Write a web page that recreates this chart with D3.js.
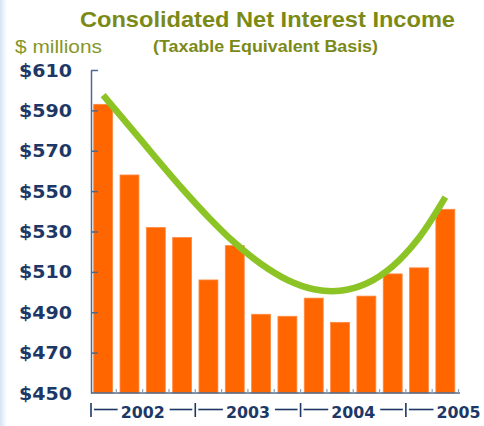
<!DOCTYPE html>
<html>
<head>
<meta charset="utf-8">
<script src="https://cdn.jsdelivr.net/npm/d3@7"></script>
<style>
  html, body { margin: 0; padding: 0; background: #ffffff; }
  svg { display: block; }
</style>
</head>
<body>
<svg id="chart" width="484" height="426"></svg>
<script>
// Quarterly net interest income, $ millions (2002 Q1 .. 2005 Q2)
const quarters = ["2002Q1","2002Q2","2002Q3","2002Q4",
                  "2003Q1","2003Q2","2003Q3","2003Q4",
                  "2004Q1","2004Q2","2004Q3","2004Q4",
                  "2005Q1","2005Q2"];
const income = [593, 558, 532, 527, 506, 523, 489, 488, 497, 485, 498, 509, 512, 541];
// Smoothed trend drawn over the bars, one point per quarter
const trend = [597.6, 582.1, 566.5, 551.3, 537.1, 524.4, 513.9, 506.0, 501.4, 500.6, 504.2, 512.8, 526.9, 547.0];
// Year groups along the category axis
const years = ["2002", "2003", "2004", "2005"];
const yearStart = ["2002Q1", "2003Q1", "2004Q1", "2005Q1"];
// Value axis ticks
const yTicks = [450, 470, 490, 510, 530, 550, 570, 590, 610];

const svg = d3.select("#chart");
const navy = "#1d3866";
const olive = "#7b8a17";
const axisCol = "#4d6a8e";

// faint blue edge on the left side of the slide
const defs = svg.append("defs");
const g = defs.append("linearGradient").attr("id", "edge").attr("x1", 0).attr("x2", 1);
g.append("stop").attr("offset", 0).attr("stop-color", "#d4e3f3");
g.append("stop").attr("offset", 1).attr("stop-color", "#ffffff");
svg.append("rect").attr("x", 0).attr("y", 0).attr("width", 7).attr("height", 426).attr("fill", "url(#edge)");

const x = d3.scaleBand().domain(quarters).range([90, 458.5]).paddingInner(0.28).paddingOuter(0.14);
const y = d3.scaleLinear().domain([450, 610]).range([393, 70]);
const step = x.step();
const boundary = q => x(q) - step * x.paddingInner() / 2;

// Titles
svg.append("text").attr("x", 80).attr("y", 27)
  .attr("textLength", 375).attr("lengthAdjust", "spacingAndGlyphs")
  .style("font-family", "'Liberation Sans', Arial, sans-serif")
  .style("font-weight", "bold").style("font-size", "22.5px").attr("fill", olive)
  .text("Consolidated Net Interest Income");
svg.append("text").attr("x", 153).attr("y", 52)
  .attr("textLength", 225).attr("lengthAdjust", "spacingAndGlyphs")
  .style("font-family", "'Liberation Sans', Arial, sans-serif")
  .style("font-weight", "bold").style("font-size", "16px").attr("fill", olive)
  .text("(Taxable Equivalent Basis)");
svg.append("text").attr("x", 15).attr("y", 53)
  .attr("textLength", 87).attr("lengthAdjust", "spacingAndGlyphs")
  .style("font-family", "'Liberation Sans', Arial, sans-serif")
  .style("font-size", "18px").attr("fill", "#85962a")
  .text("$ millions");

// Bars
svg.append("g").selectAll("rect").data(quarters).join("rect")
  .attr("x", d => x(d))
  .attr("width", x.bandwidth())
  .attr("y", (d, i) => y(income[i]))
  .attr("height", (d, i) => y(450) - y(income[i]))
  .attr("fill", "#ff6600")
  .attr("stroke", "#ff8a45").attr("stroke-width", 0.8);

// Value axis with inward ticks
const yAxis = d3.axisLeft(y).tickValues(yTicks.filter(v => v > 450))
  .tickSize(-7).tickSizeOuter(0).tickFormat(d => "$" + d);
const ya = svg.append("g").attr("transform", "translate(91,0)").call(yAxis);
ya.select(".domain").attr("stroke", axisCol).attr("stroke-width", 1.5);
ya.selectAll(".tick line").attr("stroke", axisCol).attr("stroke-width", 1.5);
ya.selectAll(".tick text").remove();
// labels for every tick, including the baseline
svg.append("g").selectAll("text").data(yTicks).join("text")
  .attr("x", 72).attr("y", d => y(d) + 6.5)
  .attr("text-anchor", "end")
  .attr("textLength", 53).attr("lengthAdjust", "spacingAndGlyphs")
  .style("font-family", "'DejaVu Sans', Verdana, sans-serif")
  .style("font-weight", "bold").style("font-size", "17.5px").attr("fill", navy)
  .text(d => "$" + d);

// Category axis line with small ticks between bars
svg.append("line").attr("x1", 91).attr("x2", 460).attr("y1", 393).attr("y2", 393)
  .attr("stroke", axisCol).attr("stroke-width", 1.5);
svg.append("g").selectAll("line").data(quarters.slice(1).concat(["end"])).join("line")
  .attr("x1", d => d === "end" ? x.range()[1] : boundary(d))
  .attr("x2", d => d === "end" ? x.range()[1] : boundary(d))
  .attr("y1", 393).attr("y2", 389)
  .attr("stroke", "#8ca0b8").attr("stroke-width", 1.2);

// Year labels framed by separators and dashes
const yearG = svg.append("g");
const textW = 44;
years.forEach((yr, i) => {
  const sx = i === 0 ? 91 : boundary(yearStart[i]);
  const cx = boundary(yearStart[i]) + 2 * step;
  const nextSx = i < years.length - 1 ? boundary(yearStart[i + 1]) : null;
  yearG.append("line").attr("x1", sx).attr("x2", sx).attr("y1", 403).attr("y2", 417)
    .attr("stroke", navy).attr("stroke-width", 1.6);
  yearG.append("line").attr("x1", sx + 3).attr("x2", cx - textW / 2 - 3)
    .attr("y1", 409.5).attr("y2", 409.5).attr("stroke", navy).attr("stroke-width", 1.6);
  if (nextSx !== null) {
    yearG.append("line").attr("x1", cx + textW / 2 + 5).attr("x2", nextSx - 3)
      .attr("y1", 409.5).attr("y2", 409.5).attr("stroke", navy).attr("stroke-width", 1.6);
  }
  yearG.append("text").attr("x", cx).attr("y", 418)
    .attr("text-anchor", "middle")
    .attr("textLength", textW).attr("lengthAdjust", "spacingAndGlyphs")
    .style("font-family", "'DejaVu Sans', Verdana, sans-serif")
    .style("font-weight", "bold").style("font-size", "16px").attr("fill", navy)
    .text(yr);
});

// Trend curve
const line = d3.line()
  .x((d, i) => x(quarters[i]) + x.bandwidth() / 2)
  .y(d => y(d))
  .curve(d3.curveCatmullRom.alpha(0.5));
svg.append("path").datum(trend)
  .attr("d", line)
  .attr("fill", "none")
  .attr("stroke", "#8cc425")
  .attr("stroke-width", 6.5)
  .attr("stroke-linecap", "butt");
</script>
</body>
</html>
